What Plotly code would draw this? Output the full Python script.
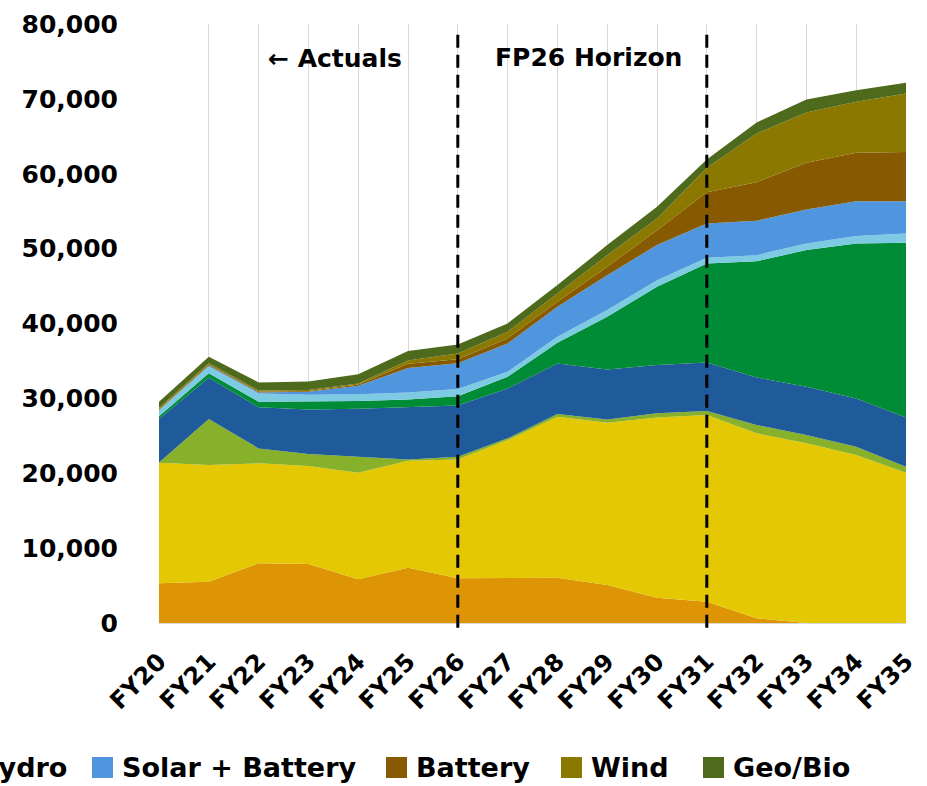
import plotly.graph_objects as go

years = ["FY20", "FY21", "FY22", "FY23", "FY24", "FY25", "FY26", "FY27",
         "FY28", "FY29", "FY30", "FY31", "FY32", "FY33", "FY34", "FY35"]

coal = [5300, 5520, 7970, 7880, 5830, 7380, 5970, 5970, 6050, 5070, 3380, 2850, 630, 0, 0, 0]
gas = [16100, 15580, 13350, 13080, 14240, 14290, 15880, 18460, 21500, 21670, 24080, 24920, 24700, 23990, 22430, 20070]
oil = [50, 6140, 2000, 1600, 2130, 180, 350, 230, 350, 450, 540, 530, 1110, 1110, 1110, 800]
nuclear = [5790, 5510, 5480, 5970, 6400, 6930, 6850, 6670, 6770, 6680, 6450, 6500, 6360, 6450, 6460, 6590]
solar = [360, 590, 750, 1070, 1060, 1070, 1250, 1560, 2750, 7030, 10450, 13220, 15530, 18250, 20690, 23320]
hydro = [800, 910, 1110, 900, 900, 930, 950, 660, 810, 890, 890, 760, 800, 890, 980, 1250]
solar_battery = [50, 150, 140, 380, 1120, 3270, 3450, 3790, 4000, 4670, 4680, 4580, 4590, 4540, 4670, 4310]
battery = [100, 100, 100, 100, 170, 570, 530, 670, 670, 1110, 2000, 4180, 5160, 6230, 6480, 6580]
wind = [150, 200, 150, 130, 150, 430, 780, 890, 1110, 1560, 1560, 3260, 6500, 6720, 6780, 7790]
geo_bio = [850, 860, 1080, 1140, 1220, 1280, 1200, 1110, 1120, 1340, 1560, 1100, 1470, 1740, 1560, 1430]

series_names = ["Coal", "Natural Gas", "Oil", "Nuclear", "Solar", "Hydro",
                "Solar + Battery", "Battery", "Wind", "Geo/Bio"]
series_values = [coal, gas, oil, nuclear, solar, hydro, solar_battery, battery, wind, geo_bio]
colors = ["#DD9405", "#E4C804", "#87B02B", "#1F5A9A", "#008C36", "#7DCBE3",
          "#5096DE", "#875900", "#8B7800", "#4E6A1C"]

y_ticks = [0, 10000, 20000, 30000, 40000, 50000, 60000, 70000, 80000]
period_lines = ["FY26", "FY31"]
period_labels = ["\u2190 Actuals", "FP26 Horizon"]

W, H = 927, 786
L, R, T, B = 159, 21, 24, 163
pw, ph = W - L - R, H - T - B

def px2x(px):
    return (px - L) / pw

def px2y(py):
    return (H - B - py) / ph

fig = go.Figure()
for name, vals, col in zip(series_names, series_values, colors):
    fig.add_trace(go.Scatter(
        x=years, y=vals, name=name, stackgroup="one",
        mode="lines", line=dict(width=0, color=col), fillcolor=col,
        showlegend=False, hoverinfo="x+y+name"))

# dashed period separators
for yr in period_lines:
    fig.add_shape(type="line", xref="x", yref="paper", x0=yr, x1=yr,
                  y0=-0.008, y1=0.985,
                  line=dict(color="black", width=3, dash="13px,7px"), layer="above")

# period labels
label_pos = [(335, 58), (588, 57)]
for txt, (cx, cy) in zip(period_labels, label_pos):
    fig.add_annotation(text=txt, xref="paper", yref="paper", x=px2x(cx), y=px2y(cy),
                       xanchor="center", yanchor="middle", showarrow=False,
                       font=dict(family="DejaVu Sans", size=25, color="black", weight="bold"))

# legend (manual, horizontal, centred and wider than the canvas)
legend_names = series_names[5:]
legend_cols = colors[5:]
swatch_px = [-54, 92, 386, 561, 703]
ly = 767.5
for name, col, sx in zip(legend_names, legend_cols, swatch_px):
    fig.add_shape(type="rect", xref="paper", yref="paper",
                  x0=px2x(sx), x1=px2x(sx + 21), y0=px2y(ly - 10.5), y1=px2y(ly + 10.5),
                  fillcolor=col, line=dict(width=0))
    fig.add_annotation(text=name, xref="paper", yref="paper", x=px2x(sx + 28), y=px2y(ly),
                       xanchor="left", yanchor="middle", showarrow=False,
                       font=dict(family="DejaVu Sans", size=27, color="black", weight="bold"))

fig.update_layout(
    width=W, height=H,
    margin=dict(l=L, r=R, t=T, b=B, autoexpand=False),
    plot_bgcolor="white", paper_bgcolor="white",
    font=dict(family="DejaVu Sans", size=25, color="black", weight="bold"),
    showlegend=False,
)
fig.update_xaxes(
    type="category", range=[0, len(years) - 1],
    showgrid=True, gridcolor="#D9D9D9", gridwidth=1,
    showline=True, linecolor="#D9D9D9", linewidth=1,
    tickangle=-45, ticklabelstandoff=14,
    tickfont=dict(family="DejaVu Sans", size=24, color="black", weight="bold"),
    ticks="", zeroline=False,
)
fig.update_yaxes(
    range=[0, 80000], tickvals=y_ticks, tickformat=",",
    showgrid=False, zeroline=False, showline=False,
    ticks="", ticklabelstandoff=40,
    tickfont=dict(family="DejaVu Sans", size=25, color="black", weight="bold"),
)

fig.write_html(
    "out.html",
    config={"displayModeBar": False},
    post_script="document.body.style.margin='0';document.body.style.overflow='hidden';",
)
